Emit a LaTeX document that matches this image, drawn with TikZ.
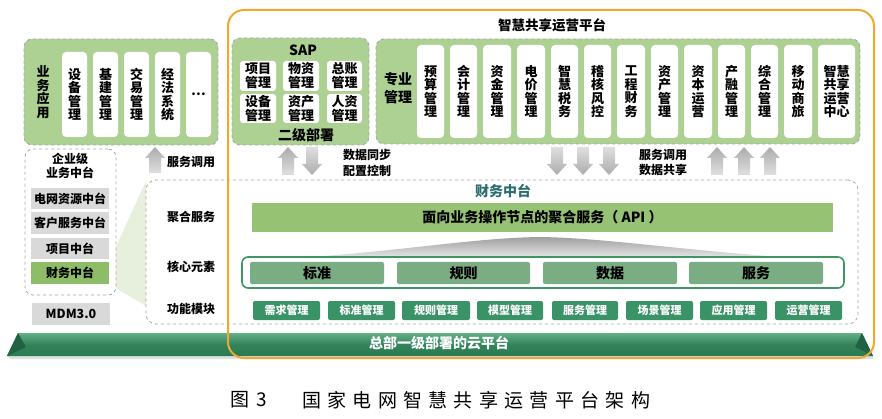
\documentclass[tikz,border=0pt]{standalone}
\usepackage{fontspec}
\setmainfont{Noto Sans CJK SC}
\definecolor{lgreen}{HTML}{ADD193}
\definecolor{bordergray}{HTML}{A6A6A6}
\definecolor{boxgray}{HTML}{D9D9D9}
\definecolor{fingreen}{HTML}{8DBE67}
\definecolor{bargreen}{HTML}{95C273}
\definecolor{coregreen}{HTML}{7BAD85}
\definecolor{coreborder}{HTML}{3D9664}
\definecolor{modgreen}{HTML}{3A9366}
\definecolor{tealtxt}{HTML}{2A6F6E}
\definecolor{orangeframe}{HTML}{F0A830}
\definecolor{arrgray}{HTML}{BFBFBF}
\definecolor{wedgegreen}{HTML}{E6F0DD}
\definecolor{cloudtop}{HTML}{63B087}
\definecolor{cloudbot}{HTML}{2A7A52}
\newcommand{\fvt}{\bfseries\fontsize{13}{13.5}\selectfont}
\newcommand{\flbl}{\bfseries\fontsize{12}{14}\selectfont}
\newcommand{\fbig}{\bfseries\fontsize{14}{18}\selectfont}
\newcommand{\spc}{\hspace{6.3pt}}
% box from corners: [style]{name}{x1}{y1}{x2}{y2}{text}
\newcommand{\bx}[7][]{\node[#1, minimum width={#5-#3}, minimum height={#6-#4}] (#2) at ({(#3+#5)/2},{(#4+#6)/2}) {#7};}
\newcommand{\garrup}[3]{\shade[top color=arrgray!90!black, bottom color=arrgray!50] (#1,#2) -- ++(10,11) -- ++(-4,0) -- (#1+6,#3) -- (#1-6,#3) -- (#1-6,#2+11) -- ++(-4,0) -- cycle;}
\newcommand{\garrdown}[3]{\shade[top color=arrgray!50, bottom color=arrgray!90!black] (#1,#3) -- ++(10,-11) -- ++(-4,0) -- (#1+6,#2) -- (#1-6,#2) -- (#1-6,#3-11) -- ++(-4,0) -- cycle;}
\tikzset{
  lgbox/.style={fill=lgreen, draw=bordergray, dashed, line width=0.9pt, rounded corners=8pt, inner sep=0pt},
  dbox/.style={fill=white, draw=bordergray, dashed, line width=0.8pt, rounded corners=8pt, inner sep=0pt},
  wbox/.style={fill=white, draw=none, rounded corners=4pt, inner sep=0pt, align=center, font=\fvt},
  sbox/.style={fill=white, draw=none, rounded corners=3pt, inner sep=0pt, align=center, font=\bfseries\fontsize{13}{14}\selectfont},
  gbox/.style={fill=boxgray, draw=none, inner sep=0pt, font=\flbl},
  corebox/.style={fill=coregreen, draw=none, rounded corners=2pt, inner sep=0pt, font=\fbig},
  modbox/.style={fill=modgreen, draw=none, rounded corners=2pt, inner sep=0pt, text=white, font=\bfseries\fontsize{11}{12}\selectfont},
  lbl/.style={inner sep=0pt, align=center, font=\flbl},
}
\begin{document}
\begin{tikzpicture}[x=1pt,y=-1pt]
\useasboundingbox (0,0) rectangle (882,419);

% ---------- top left: business applications ----------
\bx[lgbox]{biz}{24}{39}{218}{145}{}
\node[lbl, font=\fvt] (bizlbl) at (43,92) {业\\务\\应\\用};
\bx[wbox]{b1}{62}{52}{87}{137}{设\\备\\管\\理}
\bx[wbox]{b2}{93}{52}{118}{137}{基\\建\\管\\理}
\bx[wbox]{b3}{124}{52}{149}{137}{交\\易\\管\\理}
\bx[wbox]{b4}{155}{52}{180}{137}{经\\法\\系\\统}
\bx[wbox]{b5}{186}{52}{211}{137}{…}

% ---------- SAP ----------
\bx[lgbox]{sap}{232}{38}{369}{145}{}
\node[lbl, font=\bfseries\fontsize{14}{16}\selectfont] (saplbl) at (303,50) {SAP};
\bx[sbox]{s1}{240}{61}{276}{91}{项目\\管理}
\bx[sbox]{s2}{283}{61}{319}{91}{物资\\管理}
\bx[sbox]{s3}{327}{61}{362}{91}{总账\\管理}
\bx[sbox]{s4}{240}{94}{276}{123}{设备\\管理}
\bx[sbox]{s5}{283}{94}{319}{123}{资产\\管理}
\bx[sbox]{s6}{327}{94}{362}{123}{人资\\管理}
\node[lbl, font=\fbig] (sapdep) at (306,135) {二级部署};

% ---------- professional management ----------
\node[lbl, font=\bfseries\fontsize{13.5}{16}\selectfont] (title) at (552,25) {智慧共享运营平台};
\bx[lgbox]{pro}{376}{39}{860}{144}{}
\node[lbl, font=\fbig] (prolbl) at (398,88) {专业\\管理};
\bx[wbox]{p1}{417}{45}{444}{138}{预\\算\\管\\理}
\bx[wbox]{p2}{450}{45}{477}{138}{会\\计\\管\\理}
\bx[wbox]{p3}{483}{45}{511}{138}{资\\金\\管\\理}
\bx[wbox]{p4}{517}{45}{545}{138}{电\\价\\管\\理}
\bx[wbox]{p5}{551}{45}{578}{138}{智\\慧\\税\\务}
\bx[wbox]{p6}{584}{45}{611}{138}{稽\\核\\风\\控}
\bx[wbox]{p7}{617}{45}{645}{138}{工\\程\\财\\务}
\bx[wbox]{p8}{651}{45}{678}{138}{资\\产\\管\\理}
\bx[wbox]{p9}{684}{45}{712}{138}{资\\本\\运\\营}
\bx[wbox]{p10}{718}{45}{745}{138}{产\\融\\管\\理}
\bx[wbox]{p11}{751}{45}{778}{138}{综\\合\\管\\理}
\bx[wbox]{p12}{784}{45}{812}{138}{移\\动\\商\\旅}
\bx[wbox]{p13}{818}{45}{855}{138}{智慧\\共享\\运营\\中心}

% ---------- arrows and their texts ----------
\garrup{155}{147}{173}
\node[lbl, anchor=west] (t1) at (167,162) {服务调用};
\garrup{288}{147}{175}
\garrdown{312}{147}{175}
\node[lbl, anchor=west] (t2) at (343,155) {数据同步};
\node[lbl, anchor=west] (t3) at (343,171) {配置控制};
\garrdown{557}{147}{175}
\garrdown{583}{147}{175}
\garrdown{609}{147}{175}
\node[lbl, anchor=west] (t4) at (639,155) {服务调用};
\node[lbl, anchor=west] (t5) at (639,170) {数据共享};
\garrup{717}{147}{175}
\garrup{744}{147}{175}
\garrup{770}{147}{175}

% ---------- wedge ----------
\fill[wedgegreen] (109,262) -- (146,181) -- (146,306) -- (109,284) -- cycle;

% ---------- enterprise middle platform ----------
\bx[dbox]{ent}{25}{149}{116}{295}{}
\node[lbl] (entlbl) at (70,166) {企业级\\业务中台};
\bx[gbox]{e1}{31}{188}{109}{209}{电网资源中台}
\bx[gbox]{e2}{31}{212}{109}{234}{客户服务中台}
\bx[gbox]{e3}{31}{238}{109}{259}{项目中台}
\bx[gbox, fill=fingreen]{e4}{31}{262}{109}{284}{财务中台}
\bx[gbox, font=\bfseries\fontsize{12.5}{14}\selectfont]{mdm}{32}{303}{110}{325}{MDM3.0}

% ---------- finance middle platform ----------
\bx[dbox, rounded corners=10pt]{fin}{146}{180}{858}{324}{}
\node[lbl] (l1) at (191,217) {聚合服务};
\node[lbl] (l2) at (191,267) {核心元素};
\node[lbl] (l3) at (191,309) {功能模块};
\node[lbl, font=\fbig, text=tealtxt] (fintitle) at (503,191) {财务中台};
\bx[fill=bargreen, inner sep=0pt, font=\fbig]{api}{252}{203}{833}{232}{面向业务操作节点的聚合服务（~API~）}
\shade[top color=gray!75, bottom color=gray!15]
  (280,259) .. controls (400,252) and (470,238) .. (540,237)
  .. controls (610,238) and (690,252) .. (815,259) -- cycle;
\bx[fill=white, draw=coreborder, line width=1.6pt, rounded corners=6pt, inner sep=0pt]{core}{242}{257}{844}{288}{}
\bx[corebox]{c1}{250}{262}{384}{284}{标准}
\bx[corebox]{c2}{397}{262}{530}{284}{规则}
\bx[corebox]{c3}{543}{262}{677}{284}{数据}
\bx[corebox]{c4}{689}{262}{823}{284}{服务}
\bx[modbox]{m1}{253}{301}{320}{320}{需求管理}
\bx[modbox]{m2}{328}{301}{395}{320}{标准管理}
\bx[modbox]{m3}{402}{301}{470}{320}{规则管理}
\bx[modbox]{m4}{477}{301}{543}{320}{模型管理}
\bx[modbox]{m5}{552}{301}{618}{320}{服务管理}
\bx[modbox]{m6}{626}{301}{693}{320}{场景管理}
\bx[modbox]{m7}{700}{301}{767}{320}{应用管理}
\bx[modbox]{m8}{775}{301}{842}{320}{运营管理}

% ---------- cloud platform bar ----------
\fill[gray!25] (8,356) -- (873,356) -- (873,359) -- (10,359) -- cycle;
\shade[top color=cloudtop, bottom color=cloudbot, middle color=cloudbot!85!cloudtop]
  (18,333) -- (862,333) -- (873,356) -- (7,356) -- cycle;
\fill[cloudbot!80!black] (18,333) -- (7,356) -- (26,347) -- cycle;
\fill[cloudbot!80!black] (862,333) -- (873,356) -- (855,347) -- cycle;
\node[lbl, font=\fbig, text=white] (cloud) at (439,343) {总部一级部署的云平台};

% ---------- orange frame ----------
\draw[orangeframe, line width=2pt, rounded corners=16pt] (228,10) rectangle (874,358);

% ---------- caption ----------
\node[inner sep=0pt, anchor=west, font=\fontsize{19}{22}\selectfont] (cap1) at (230,400) {图\hspace{7pt}3};
\node[inner sep=0pt, anchor=west, font=\fontsize{19}{22}\selectfont] (cap2) at (302,400) {国\spc{}家\spc{}电\spc{}网\spc{}智\spc{}慧\spc{}共\spc{}享\spc{}运\spc{}营\spc{}平\spc{}台\spc{}架\spc{}构};
\end{tikzpicture}
\end{document}
